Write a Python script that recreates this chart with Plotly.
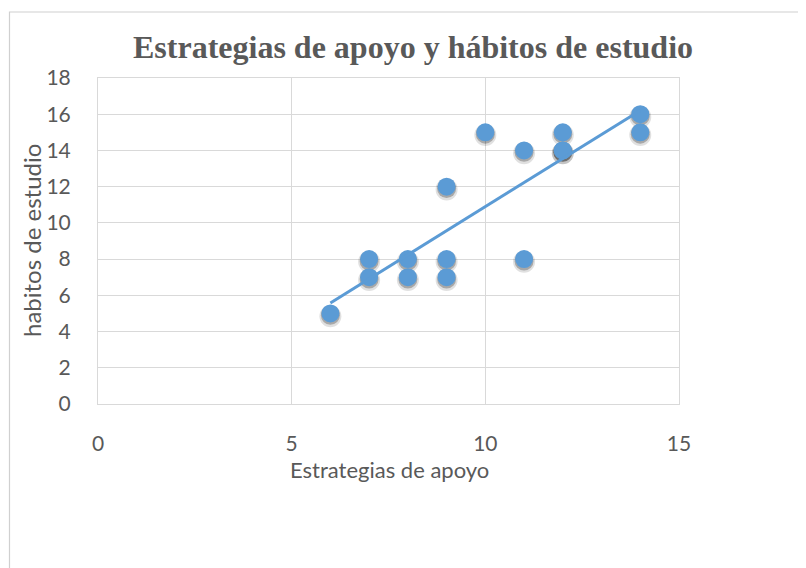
import numpy as np
import plotly.graph_objects as go

estrategias = [6, 7, 7, 8, 8, 9, 9, 9, 10, 11, 11, 12, 12, 12, 14, 14]
habitos = [5, 8, 7, 8, 7, 12, 8, 7, 15, 14, 8, 15, 14, 14, 16, 15]
x_ticks = [0, 5, 10, 15]
y_ticks = list(range(0, 19, 2))

title = "Estrategias de apoyo y hábitos de estudio"
x_title = "Estrategias de apoyo"
y_title = "habitos de estudio"

blue = "#5B9BD5"
grid = "#D9D9D9"
txt = "#595959"

xa = np.array(estrategias, dtype=float)
ya = np.array(habitos, dtype=float)
m, b = np.polyfit(xa, ya, 1)
tx = np.array([xa.min(), xa.max()])
ty = m * tx + b

fig = go.Figure()
fig.add_trace(go.Scatter(x=xa, y=ya - 0.15, mode="markers",
                         marker=dict(size=22, color="rgba(0,0,0,0.12)", line=dict(width=0)),
                         hoverinfo="skip", showlegend=False))
fig.add_trace(go.Scatter(x=xa, y=ya - 0.1, mode="markers",
                         marker=dict(size=19, color="rgba(0,0,0,0.25)", line=dict(width=0)),
                         hoverinfo="skip", showlegend=False))
fig.add_trace(go.Scatter(x=xa, y=ya, mode="markers",
                         marker=dict(size=18, color=blue, line=dict(width=0)),
                         showlegend=False))
fig.add_trace(go.Scatter(x=tx, y=ty, mode="lines",
                         line=dict(color=blue, width=3), showlegend=False))

OFF = 8  # page body margin
W, H = 806, 568
L, R, T, B = 98 - OFF, 127 + OFF, 78 - OFF, 164 + OFF
pw, ph = W - L - R, H - T - B

def px_to_paper_x(p):
    return (p - OFF - L) / pw

def px_to_paper_y(p):
    return (H - B - (p - OFF)) / ph

fig.add_shape(type="rect", xref="paper", yref="paper",
              x0=px_to_paper_x(9.5), x1=px_to_paper_x(830),
              y0=px_to_paper_y(590), y1=px_to_paper_y(12),
              line=dict(color="#D0D0D0", width=1.2), fillcolor="rgba(0,0,0,0)", layer="above")

fig.add_annotation(text=x_title, xref="paper", yref="paper",
                   x=px_to_paper_x(389), y=px_to_paper_y(469), xanchor="center", yanchor="middle",
                   showarrow=False, font=dict(family="Lato", size=22, color=txt))
fig.add_annotation(text=y_title, xref="paper", yref="paper", textangle=-90,
                   x=px_to_paper_x(31), y=px_to_paper_y(241), xanchor="center", yanchor="middle",
                   showarrow=False, font=dict(family="Lato", size=24, color=txt))

fig.update_layout(
    width=W, height=H,
    margin=dict(l=L, r=R, t=T, b=B),
    paper_bgcolor="white", plot_bgcolor="white",
    title=dict(text="<b>" + title + "</b>", x=px_to_paper_x(413), xref="paper", xanchor="center",
               y=1 - (47 - OFF) / H, yref="container", yanchor="middle",
               font=dict(family="Liberation Serif", size=32, color=txt)),
    font=dict(family="Lato", color=txt),
)
fig.update_xaxes(range=[0, 15], tickvals=x_ticks, showgrid=True, gridcolor=grid, gridwidth=1,
                 showline=True, linecolor=grid, linewidth=1, mirror=True, zeroline=False,
                 ticks="", ticklabelstandoff=21,
                 tickfont=dict(family="Lato", size=21, color=txt))
fig.update_yaxes(range=[0, 18], tickvals=y_ticks, showgrid=True, gridcolor=grid, gridwidth=1,
                 showline=True, linecolor=grid, linewidth=1, mirror=True, zeroline=False,
                 ticks="", ticklabelstandoff=22,
                 tickfont=dict(family="Lato", size=21, color=txt))

fig.write_html("out.html")
